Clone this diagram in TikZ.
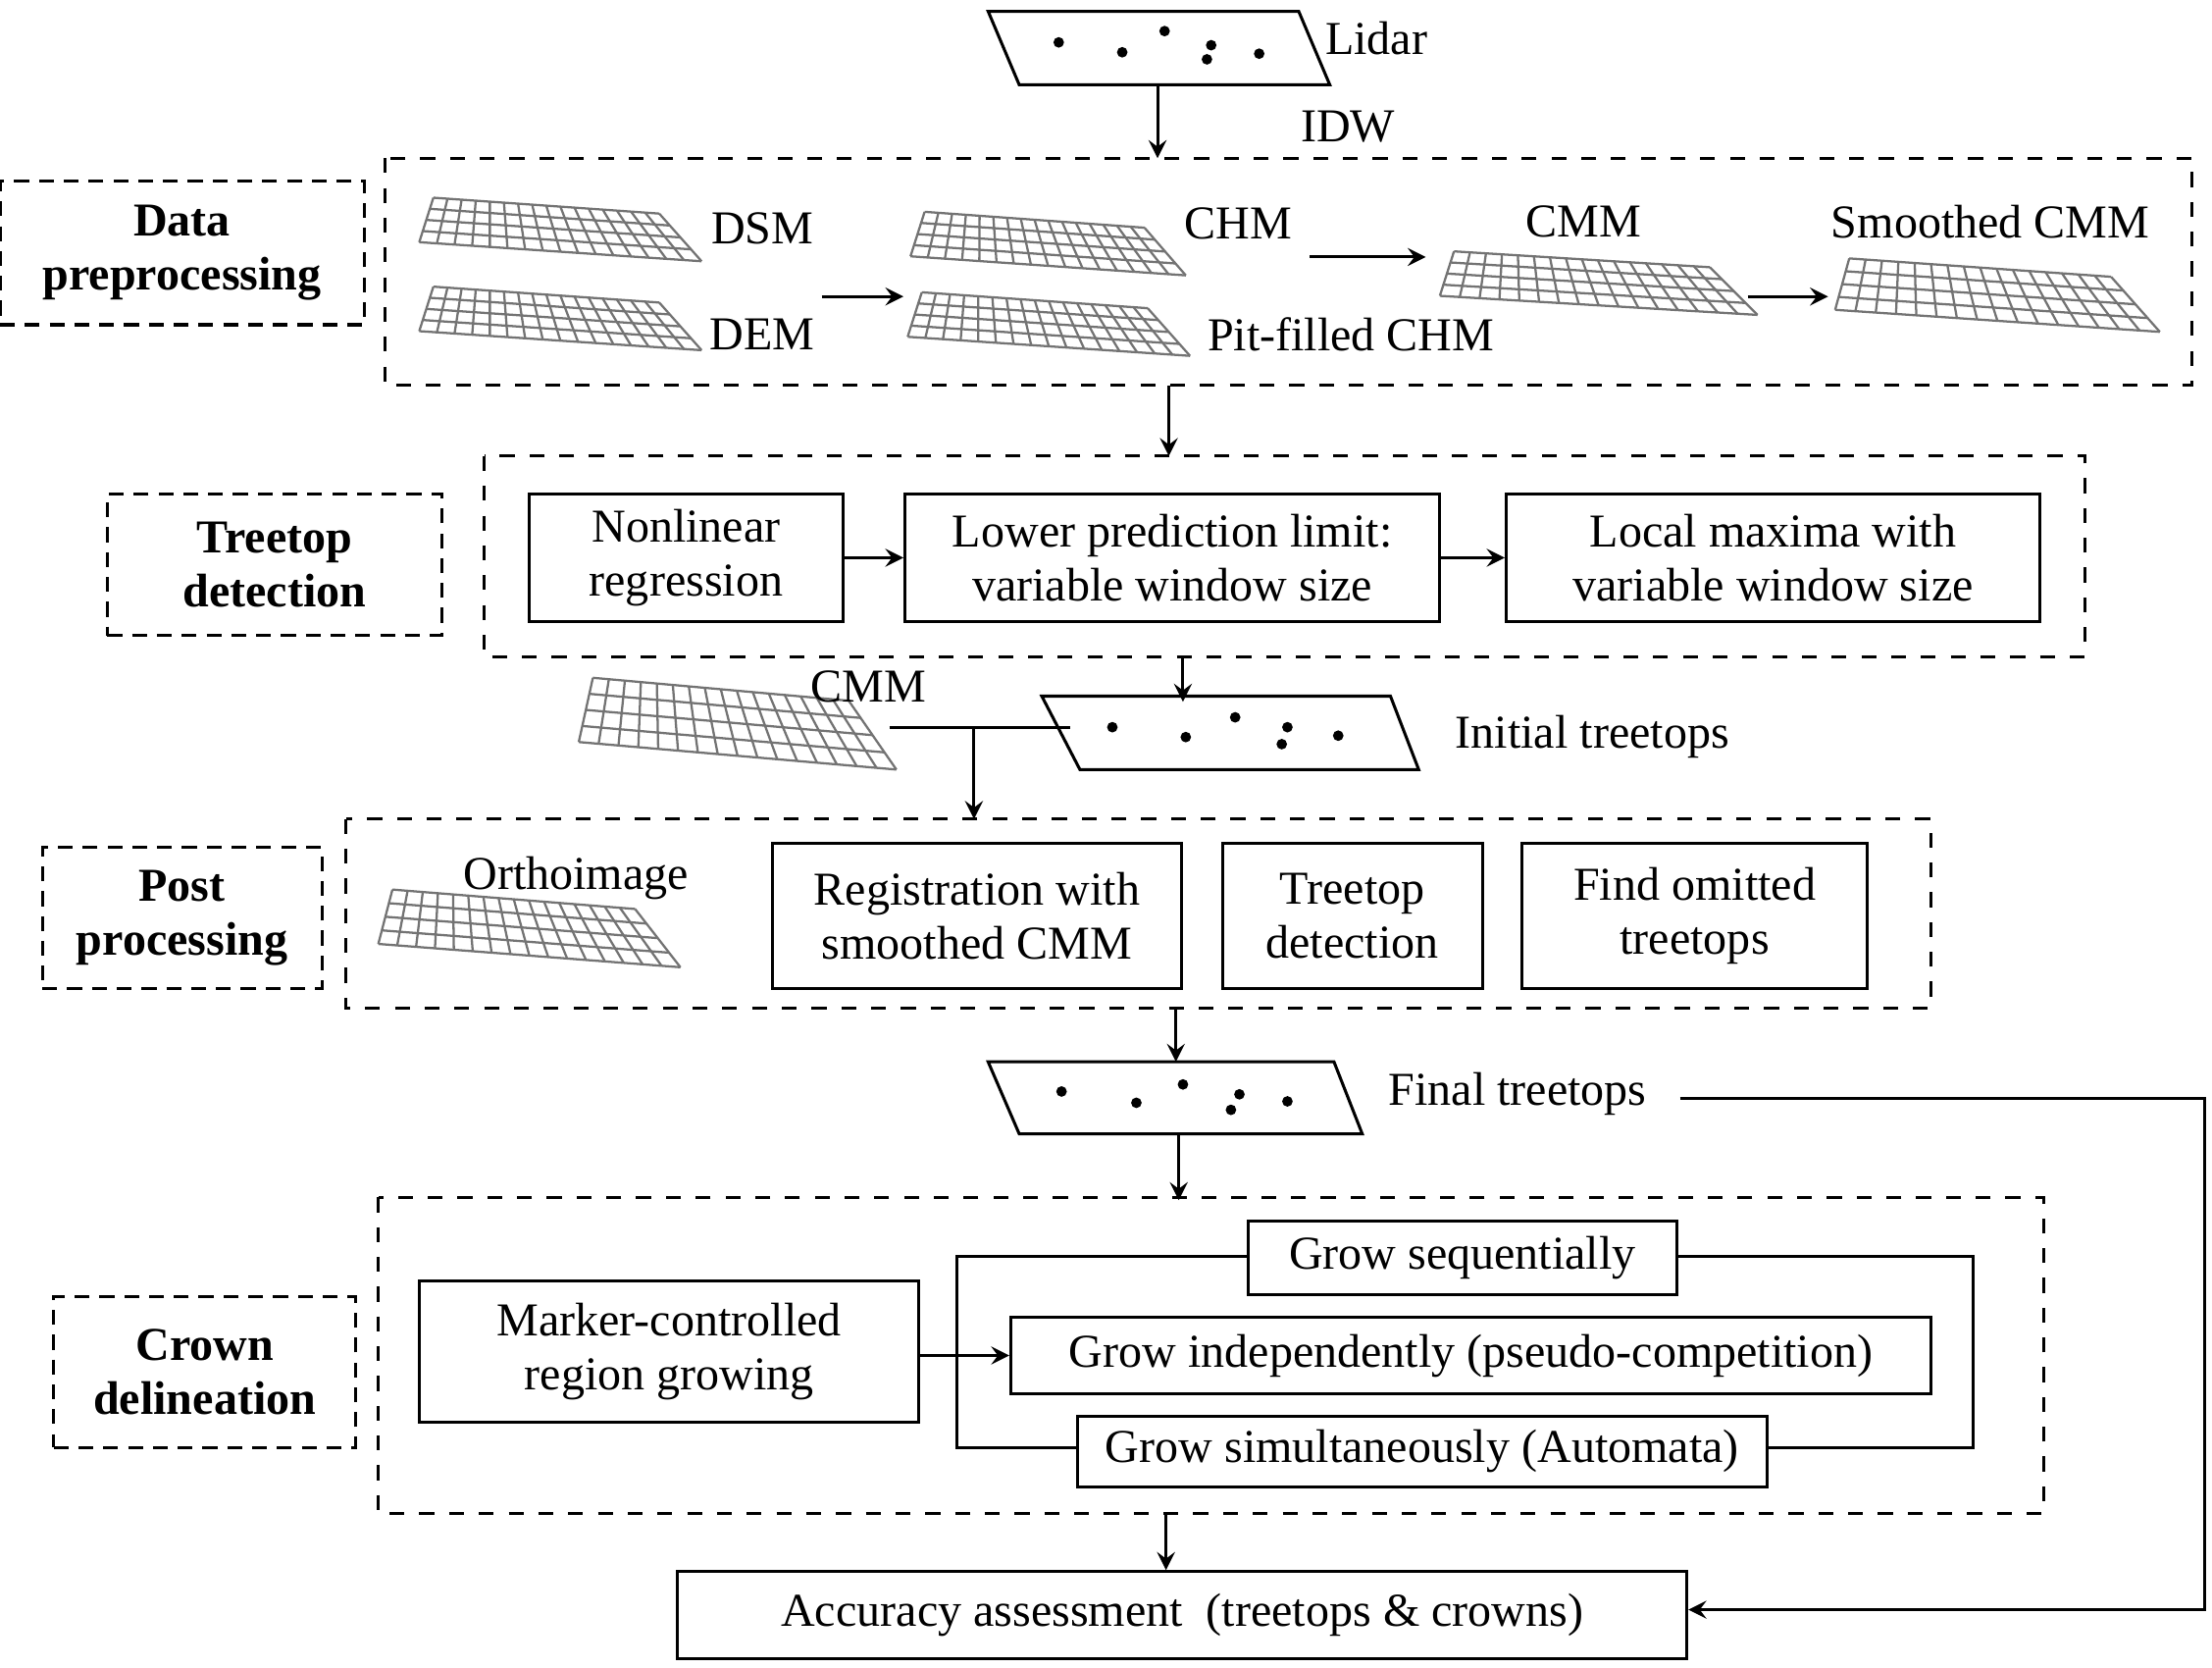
\documentclass[tikz,border=0pt]{standalone}
\usepackage{fontspec}
\setmainfont{Liberation Serif}
\usetikzlibrary{calc}
\begin{document}
\newcommand\gridpic[5]{%
 \coordinate (#5A) at (#1+10,#2);
 \coordinate (#5B) at (#1+0.85*#3,#2+0.25*#4);
 \coordinate (#5C) at (#1+#3,#2+#4);
 \coordinate (#5D) at (#1,#2+0.7*#4);
 \foreach \t in {0,0.0625,...,1.01}{\draw[black!55,line width=0.45pt] ($(#5A)!\t!(#5B)$) -- ($(#5D)!\t!(#5C)$);}
 \foreach \t in {0,0.25,...,1.01}{\draw[black!55,line width=0.45pt] ($(#5A)!\t!(#5D)$) -- ($(#5B)!\t!(#5C)$);}
}
\begin{tikzpicture}[x=0.1mm,y=-0.1mm,
  every node/.style={font=\fontsize{9.5}{10.8}\selectfont},
  box/.style={draw,line width=0.6pt,align=center,inner sep=0pt},
  dbox/.style={draw,dashed,line width=0.6pt},
  lab/.style={draw,densely dashed,line width=0.6pt,align=center,font=\fontsize{9.5}{10.8}\selectfont\bfseries,inner sep=0pt},
  arr/.style={->,line width=0.6pt,>=stealth},
  ln/.style={line width=0.6pt},
  dot/.style={fill,circle,inner sep=0pt,minimum size=0.75mm}]
\useasboundingbox (0,0) rectangle (1567,1181);
% Lidar
\draw[ln] (700,8) -- (920,8) -- (942,60) -- (722,60) -- cycle;
\foreach \p in {(750,30),(795,37),(825,22),(858,32),(855,42),(892,38)} \node[dot] at \p {};
\node (lidar) at (975,27) {Lidar};
\coordinate (l1) at (820,60); \coordinate (l2) at (820,112);
\draw[arr] (l1) -- (l2);
\node at (955,90) {IDW};
% data preprocessing
\draw[dbox] (273,112) rectangle (1553,273);
\node[lab,minimum width=258*0.1mm,minimum height=102*0.1mm] (dp) at (129,179) {Data\\preprocessing};
\gridpic{297}{140}{200}{45}{g1}
\gridpic{297}{203}{200}{45}{g2}
\gridpic{645}{150}{195}{45}{g3}
\gridpic{643}{207}{200}{45}{g4}
\gridpic{1020}{178}{225}{45}{g5}
\gridpic{1300}{183}{230}{52}{g6}
\node at (540,162) {DSM};
\node at (540,237) {DEM};
\node at (877,158) {CHM};
\node at (957,237) {Pit-filled CHM};
\node at (1122,157) {CMM};
\node at (1410,157) {Smoothed CMM};
\coordinate (a1) at (582,210); \coordinate (a2) at (640,210);
\draw[arr] (a1) -- (a2);
\coordinate (a3) at (928,182); \coordinate (a4) at (1010,182);
\draw[arr] (a3) -- (a4);
\coordinate (a5) at (1238,210); \coordinate (a6) at (1295,210);
\draw[arr] (a5) -- (a6);
\coordinate (b1) at (828,273); \coordinate (b2) at (828,323);
\draw[arr] (b1) -- (b2);
% treetop detection
\draw[dbox] (343,323) rectangle (1477,465);
\node[lab,minimum width=237*0.1mm,minimum height=100*0.1mm] at (194.5,400) {Treetop\\detection};
\node[box,minimum width=222*0.1mm,minimum height=90*0.1mm] (n1) at (486,395) {Nonlinear\\regression};
\node[box,minimum width=379*0.1mm,minimum height=90*0.1mm] (n2) at (830.5,395) {Lower prediction limit:\\variable window size};
\node[box,minimum width=378*0.1mm,minimum height=90*0.1mm] (n3) at (1256,395) {Local maxima with\\variable window size};
\draw[arr] (n1) -- (n2); \draw[arr] (n2) -- (n3);
\coordinate (c1) at (838,465); \coordinate (c2) at (838,497);
\draw[arr] (c1) -- (c2);
% initial treetops
\draw[ln] (738,493) -- (985,493) -- (1005,545) -- (765,545) -- cycle;
\foreach \p in {(788,515),(840,522),(875,508),(912,515),(908,527),(948,521)} \node[dot] at \p {};
\node at (1128,522) {Initial treetops};
\gridpic{410}{480}{225}{65}{g7}
\node at (615,486) {CMM};
\coordinate (d1) at (630,515); \coordinate (d2) at (758,515); \coordinate (d3) at (690,515); \coordinate (d4) at (690,580);
\draw[ln] (d1) -- (d2);
\draw[arr] (d3) -- (d4);
% post processing
\draw[dbox] (245,580) rectangle (1368,714);
\node[lab,minimum width=198*0.1mm,minimum height=100*0.1mm] at (129,650) {Post\\processing};
\gridpic{268}{630}{214}{55}{g8}
\node at (408,622) {Orthoimage};
\node[box,minimum width=290*0.1mm,minimum height=103*0.1mm] at (692,648.5) {Registration with\\smoothed CMM};
\node[box,minimum width=184*0.1mm,minimum height=103*0.1mm] at (958,648.5) {Treetop\\detection};
\node[box,minimum width=245*0.1mm,minimum height=103*0.1mm] at (1200.5,648.5) {Find omitted\\treetops};
\coordinate (e1) at (833,714); \coordinate (e2) at (833,752);
\draw[arr] (e1) -- (e2);
% final treetops
\draw[ln] (700,752) -- (945,752) -- (965,803) -- (722,803) -- cycle;
\foreach \p in {(752,773),(805,781),(838,768),(878,775),(872,786),(912,780)} \node[dot] at \p {};
\node at (1075,775) {Final treetops};
\coordinate (f1) at (835,803); \coordinate (f2) at (835,850);
\draw[arr] (f1) -- (f2);
% crown delineation
\draw[dbox] (268,848) rectangle (1448,1072);
\node[lab,minimum width=214*0.1mm,minimum height=107*0.1mm] at (145,971.5) {Crown\\delineation};
\node[box,minimum width=354*0.1mm,minimum height=100*0.1mm] (m) at (474,957) {Marker-controlled\\region growing};
\node[box,minimum width=304*0.1mm,minimum height=52*0.1mm] (g1) at (1036,891) {Grow sequentially};
\node[box,minimum width=652*0.1mm,minimum height=54*0.1mm] (g2) at (1042,960) {Grow independently (pseudo-competition)};
\node[box,minimum width=489*0.1mm,minimum height=50*0.1mm] (g3) at (1007.5,1028) {Grow simultaneously (Automata)};
\draw[arr] (m.east |- 0,960) -- (g2.west);
\draw[ln] (g1.west |- 0,890) -- (678,890) -- (678,1025) -- (g3.west |- 0,1025);
\draw[ln] (g1.east |- 0,890) -- (1398,890) -- (1398,1025) -- (g3.east |- 0,1025);
% accuracy
\node[box,minimum width=715*0.1mm,minimum height=62*0.1mm] (acc) at (837.5,1144) {Accuracy assessment\ \ (treetops \& crowns)};
\coordinate (h1) at (826,1072);
\draw[arr] (h1) -- (h1 |- acc.north);
\coordinate (k1) at (1190,778);
\draw[arr] (k1) -- (1562,778) -- (1562,1140) -- (acc.east |- 0,1140);
\end{tikzpicture}
\end{document}
